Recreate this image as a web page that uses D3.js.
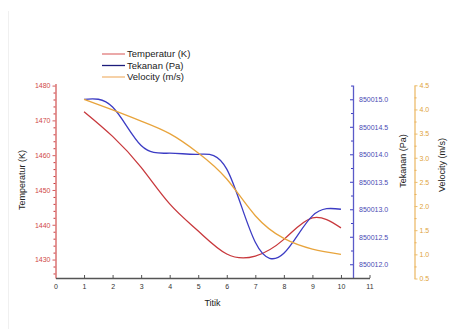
<!DOCTYPE html>
<html>
<head>
<meta charset="utf-8">
<script src="https://cdn.jsdelivr.net/npm/d3@7"></script>
<style>
  body { margin: 0; background: #fff; }
  svg { display: block; font-family: Arial, "Liberation Sans", sans-serif; }
</style>
</head>
<body>
<svg id="chart" width="456" height="329"></svg>
<script>
// data
const titik = [1, 2, 3, 4, 5, 6, 7, 8, 9, 10];
const temperatur = [1472.5, 1465.4, 1456.5, 1446.0, 1438.2, 1431.6, 1431.0, 1435.8, 1442.0, 1439.1];
const tekanan = [850015.0, 850014.86, 850014.16, 850014.02, 850014.0, 850013.73, 850012.4, 850012.2, 850012.88, 850013.0];
const velocity = [4.21, 3.99, 3.76, 3.50, 3.10, 2.56, 1.80, 1.33, 1.11, 1.0];

const xTicks = d3.range(0, 12);
const tempTicks = [1430, 1440, 1450, 1460, 1470, 1480];
const tekTicks = [850012.0, 850012.5, 850013.0, 850013.5, 850014.0, 850014.5, 850015.0];
const velTicks = [0.5, 1.0, 1.5, 2.0, 2.5, 3.0, 3.5, 4.0, 4.5];

const legendItems = [
  { name: "Temperatur (K)", color: "#e07a7a" },
  { name: "Tekanan (Pa)", color: "#1c1c7c" },
  { name: "Velocity (m/s)", color: "#f2b878" }
];

const red = "#c8383c", blue = "#3c3cc4", orange = "#e8a43c";

const svg = d3.select("#chart");

// faint frame edge seen in the screenshot
svg.append("line").attr("x1", 8.5).attr("x2", 8.5).attr("y1", 11).attr("y2", 329)
  .attr("stroke", "#f0f0f0");

const x = d3.scaleLinear().domain([0, 11]).range([55.5, 369.5]);
const yT = d3.scaleLinear().domain([1424.7, 1480.6]).range([278, 83.5]);
const yP = d3.scaleLinear().domain([850011.75, 850015.26]).range([278, 85]);
const yV = d3.scaleLinear().domain([0.5, 4.5]).range([278.5, 85.3]);

function styleAxis(g, color, textColor) {
  g.select(".domain").attr("stroke", color).attr("stroke-width", 1.3);
  g.selectAll(".tick line").attr("stroke", color);
  g.selectAll(".tick text").attr("fill", textColor).style("font-size", "7px");
}

// minor ticks
function minor(axisGen, scale, values, pos) {
  return svg.append("g").attr("transform", pos)
    .call(axisGen(scale).tickValues(values).tickSize(2).tickFormat(""))
    .call(g => g.select(".domain").remove());
}

// left axis
minor(d3.axisLeft, yT, d3.range(1426, 1481, 2).filter(v => v % 10 !== 0), `translate(${x(0)},0)`)
  .selectAll("line").attr("stroke", red);
svg.append("g").attr("transform", `translate(${x(0)},0)`)
  .call(d3.axisLeft(yT).tickValues(tempTicks).tickSize(3).tickSizeOuter(0).tickFormat(d3.format("d")).tickPadding(2))
  .call(g => styleAxis(g, "#d45c5c", "#d04848"));

// tekanan axis (ticks point inward)
const xP = 353;
minor(d3.axisLeft, yP, d3.range(850011.75, 850015.3, 0.5), `translate(${xP},0)`)
  .selectAll("line").attr("stroke", blue);
svg.append("g").attr("transform", `translate(${xP},0)`)
  .call(d3.axisRight(yP).tickValues(tekTicks).tickSize(0).tickSizeOuter(0).tickFormat(d3.format(".1f")).tickPadding(6))
  .call(g => styleAxis(g, "#5a5ac8", "#4a4ab4"));
svg.append("g").attr("transform", `translate(${xP},0)`)
  .call(d3.axisLeft(yP).tickValues(tekTicks).tickSize(3).tickFormat(""))
  .call(g => g.select(".domain").remove())
  .selectAll("line").attr("stroke", blue);

// velocity axis
const xV = 414.5;
minor(d3.axisRight, yV, d3.range(0.75, 4.5, 0.5), `translate(${xV},0)`)
  .selectAll("line").attr("stroke", orange);
svg.append("g").attr("transform", `translate(${xV},0)`)
  .call(d3.axisRight(yV).tickValues(velTicks).tickSize(3).tickSizeOuter(0).tickFormat(d3.format(".1f")).tickPadding(2))
  .call(g => styleAxis(g, "#ecbc6c", "#e0a43c"));

// bottom axis (ticks inward)
svg.append("g").attr("transform", `translate(0,278)`)
  .call(d3.axisBottom(x).tickValues(xTicks).tickSize(0).tickSizeOuter(0).tickPadding(6))
  .call(g => styleAxis(g, "#555", "#333"));
svg.append("g").attr("transform", `translate(0,278)`)
  .call(d3.axisTop(x).tickValues(xTicks.slice(1)).tickSize(3).tickFormat(""))
  .call(g => g.select(".domain").remove())
  .selectAll("line").attr("stroke", "#555");

// series
const curve = d3.curveNatural;
const series = [
  { vals: temperatur, y: yT, color: red },
  { vals: tekanan, y: yP, color: blue },
  { vals: velocity, y: yV, color: orange }
];
series.forEach(s => {
  svg.append("path")
    .datum(titik.map((t, i) => [t, s.vals[i]]))
    .attr("fill", "none")
    .attr("stroke", s.color)
    .attr("stroke-width", 1.3)
    .attr("d", d3.line().x(d => x(d[0])).y(d => s.y(d[1])).curve(curve));
});

// axis titles
svg.append("text").attr("transform", "translate(25,180) rotate(-90)")
  .attr("text-anchor", "middle").style("font-size", "9px").attr("fill", "#222").text("Temperatur (K)");
svg.append("text").attr("transform", "translate(406,161) rotate(-90)")
  .attr("text-anchor", "middle").style("font-size", "9px").attr("fill", "#222").text("Tekanan (Pa)");
svg.append("text").attr("transform", "translate(445,165) rotate(-90)")
  .attr("text-anchor", "middle").style("font-size", "9px").attr("fill", "#222").text("Velocity (m/s)");
svg.append("text").attr("x", x(5.5)).attr("y", 306)
  .attr("text-anchor", "middle").style("font-size", "9px").attr("fill", "#222").text("Titik");

// legend
const lg = svg.append("g");
legendItems.forEach((d, i) => {
  const yy = 54 + i * 11.5;
  lg.append("line").attr("x1", 102).attr("x2", 125).attr("y1", yy).attr("y2", yy)
    .attr("stroke", d.color).attr("stroke-width", 1.3);
  lg.append("text").attr("x", 127).attr("y", yy + 3.3)
    .style("font-size", "9.5px").attr("fill", "#222").text(d.name);
});
</script>
</body>
</html>
